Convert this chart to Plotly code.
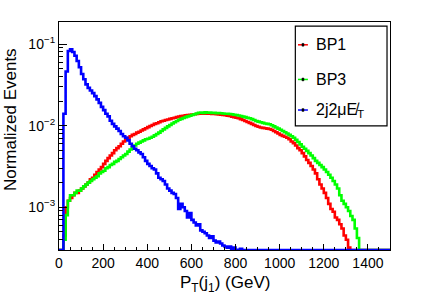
import plotly.graph_objects as go

bin_width = 10
edges = list(range(0, 1510, bin_width))

bp1 = [
    0, 0, 0.00045, 0.0010, 0.0012, 0.0013, 0.0014, 0.0015, 0.0015, 0.0016,
    0.0017, 0.0018, 0.0019, 0.0020, 0.0022, 0.0023, 0.0025, 0.0027, 0.0029, 0.0031,
    0.0034, 0.0037, 0.0040, 0.0043, 0.0046, 0.0050, 0.0053, 0.0056, 0.0060, 0.0064,
    0.0068, 0.0071, 0.0074, 0.0077, 0.0079, 0.0082, 0.0084, 0.0087, 0.0090, 0.0093,
    0.0096, 0.0099, 0.0102, 0.0105, 0.0107, 0.0110, 0.0113, 0.0115, 0.0117, 0.0119,
    0.0121, 0.0123, 0.0125, 0.0127, 0.0129, 0.0131, 0.0132, 0.0134, 0.0135, 0.0136,
    0.0137, 0.0138, 0.0139, 0.0140, 0.0141, 0.0140, 0.0141, 0.0140, 0.0140, 0.0139,
    0.0139, 0.0138, 0.0137, 0.0136, 0.0135, 0.0134, 0.0132, 0.0131, 0.0129, 0.0127,
    0.0125, 0.0123, 0.0120, 0.0117, 0.0114, 0.0111, 0.0108, 0.0105, 0.0102, 0.0099,
    0.0097, 0.0095, 0.0094, 0.0093, 0.0092, 0.0091, 0.0089, 0.0086, 0.0083, 0.0080,
    0.0077, 0.0075, 0.0073, 0.0071, 0.0068, 0.0064, 0.0061, 0.0057, 0.0053, 0.0050,
    0.0046, 0.0042, 0.0038, 0.0035, 0.0032, 0.0029, 0.0026, 0.0022, 0.0019, 0.0017,
    0.0015, 0.0013, 0.0011, 0.00095, 0.00088, 0.00075, 0.00070, 0.00062, 0.00055, 0.00045,
    0.00040, 0.00032, 0, 0, 0, 0, 0, 0, 0, 0,
    0, 0, 0, 0, 0, 0, 0, 0, 0, 0,
]

bp3 = [
    0, 0, 0.00040, 0.0008, 0.0012, 0.0014, 0.0014, 0.0015, 0.0016, 0.0016,
    0.0017, 0.0018, 0.0019, 0.0020, 0.0021, 0.0022, 0.0023, 0.0024, 0.0026, 0.0027,
    0.0028, 0.0030, 0.0031, 0.0033, 0.0034, 0.0036, 0.0037, 0.0039, 0.0041, 0.0043,
    0.0045, 0.0048, 0.0051, 0.0054, 0.0057, 0.0060, 0.0062, 0.0064, 0.0066, 0.0068,
    0.0069, 0.0071, 0.0073, 0.0076, 0.0079, 0.0082, 0.0086, 0.0090, 0.0094, 0.0098,
    0.0102, 0.0106, 0.0110, 0.0114, 0.0118, 0.0121, 0.0124, 0.0127, 0.0130, 0.0132,
    0.0135, 0.0138, 0.0141, 0.0144, 0.0145, 0.0143, 0.0146, 0.0144, 0.0145, 0.0143,
    0.0144, 0.0142, 0.0143, 0.0142, 0.0141, 0.0140, 0.0140, 0.0139, 0.0138, 0.0136,
    0.0135, 0.0133, 0.0131, 0.0129, 0.0127, 0.0125, 0.0123, 0.0120, 0.0117, 0.0114,
    0.0112, 0.0110, 0.0108, 0.0106, 0.0105, 0.0104, 0.0101, 0.0098, 0.0095, 0.0092,
    0.0089, 0.0086, 0.0083, 0.0080, 0.0077, 0.0074, 0.0071, 0.0067, 0.0063, 0.0059,
    0.0055, 0.0052, 0.0049, 0.0046, 0.0043, 0.0040, 0.0037, 0.0035, 0.0033, 0.0031,
    0.0029, 0.0027, 0.0025, 0.0023, 0.0021, 0.0019, 0.0017, 0.0014, 0.0012, 0.0011,
    0.0010, 0.0009, 0.00078, 0.00070, 0.00055, 0.00042, 0, 0, 0, 0,
    0, 0, 0, 0, 0, 0, 0, 0, 0, 0,
]

bkg = [
    0, 0, 0.014, 0.046, 0.082, 0.086, 0.080, 0.072, 0.062, 0.052,
    0.043, 0.037, 0.032, 0.029, 0.027, 0.025, 0.023, 0.021, 0.019, 0.017,
    0.0155, 0.014, 0.013, 0.0115, 0.0105, 0.0098, 0.0092, 0.0086, 0.0079, 0.0074,
    0.0071, 0.0066, 0.0060, 0.0056, 0.0052, 0.0050, 0.0047, 0.0045, 0.0041, 0.0037,
    0.0034, 0.0032, 0.0030, 0.0029, 0.0026, 0.0023, 0.0022, 0.0021, 0.0019, 0.0017,
    0.0016, 0.0015, 0.00145, 0.0013, 0.00095, 0.0011, 0.0010, 0.0009, 0.00075, 0.00085,
    0.00070, 0.00065, 0.00060, 0.00062, 0.00052, 0.00050, 0.00048, 0.00045, 0.00042, 0.00044,
    0.00039, 0.00037, 0.00038, 0.00036, 0.00034, 0.00033, 0.00032, 0.00033, 0.00031, 0.00032,
    0.00030, 0, 0.00031, 0, 0, 0, 0, 0, 0, 0,
    0, 0, 0, 0, 0, 0, 0, 0, 0, 0,
    0, 0, 0, 0, 0, 0, 0, 0, 0, 0,
    0, 0, 0, 0, 0, 0, 0, 0, 0, 0,
    0, 0, 0, 0, 0, 0, 0, 0, 0, 0,
    0, 0, 0, 0, 0, 0, 0, 0, 0, 0,
    0, 0, 0, 0, 0, 0, 0, 0, 0, 0,
]

names = ["BP1", "BP3", "2j2μE̸<sub>T</sub>"]
colors = ["#ff0000", "#00ff00", "#0000ff"]
series = [bp1, bp3, bkg]

y_major = [1e-3, 1e-2, 1e-1]
y_major_text = ["10<sup>−3</sup>", "10<sup>−2</sup>", "10<sup>−1</sup>"]
y_minor = [m * 10.0 ** e for e in (-4, -3, -2, -1) for m in range(2, 10)]

y_log_min, y_log_max = -3.524, -0.73
floor = 10 ** y_log_min

fig = go.Figure()
for vals, col in zip(series, colors):
    y = [v if v > 0 else floor for v in vals]
    y = y + [y[-1]]
    fig.add_trace(go.Scatter(x=edges, y=y, mode="lines", line=dict(color=col, width=2.6, shape="hv"),
                             showlegend=False, hoverinfo="skip"))

axis_font = dict(family="Liberation Sans, Arial, sans-serif", size=14, color="black")

fig.update_layout(
    width=436, height=300,
    margin=dict(l=59, r=46, t=22, b=50),
    paper_bgcolor="white", plot_bgcolor="white",
    font=dict(family="Liberation Sans, Arial, sans-serif", color="black"),
    showlegend=False,
    xaxis=dict(range=[0, 1500], automargin=False, showline=True, linecolor="black", linewidth=1.2, mirror=True,
               ticks="inside", ticklen=6, tickcolor="black", dtick=200, tick0=0,
               minor=dict(ticks="inside", ticklen=3, dtick=50, tickcolor="black"),
               showgrid=False, zeroline=False, tickfont=axis_font),
    yaxis=dict(type="log", range=[y_log_min, y_log_max], automargin=False, showline=True, linecolor="black",
               linewidth=1.2, mirror=True, ticks="inside", ticklen=8, tickcolor="black",
               tickvals=y_major, ticktext=y_major_text,
               minor=dict(ticks="inside", ticklen=4, tickcolor="black", tickvals=y_minor),
               showgrid=False, zeroline=False, tickfont=axis_font),
)

# axis titles
fig.add_annotation(xref="paper", yref="paper", x=-0.148, y=0.57, text="Normalized Events", textangle=-90,
                   showarrow=False, xanchor="center", yanchor="middle", font=dict(size=17, color="black"))
fig.add_annotation(xref="paper", yref="paper", x=0.5, y=-0.092, text="P<sub>T</sub>(j<sub>1</sub>) (GeV)",
                   showarrow=False, xanchor="center", yanchor="top", font=dict(size=17, color="black"))

# legend box (manual, ROOT style)
lx0, lx1, ly0, ly1 = 0.714, 0.991, 0.982, 0.544
fig.add_shape(type="rect", xref="paper", yref="paper", x0=lx0, x1=lx1, y0=ly1, y1=ly0,
              line=dict(color="black", width=1.2), fillcolor="white", layer="above")
entry_y = [0.900, 0.748, 0.614]
for name, col, ey in zip(names, colors, entry_y):
    fig.add_shape(type="line", xref="paper", yref="paper", x0=0.722, x1=0.752, y0=ey, y1=ey,
                  line=dict(color=col, width=1.5), layer="above")
    fig.add_shape(type="rect", xref="paper", yref="paper", x0=0.734, x1=0.740, y0=ey - 0.006, y1=ey + 0.006,
                  line=dict(color="black", width=0.5), fillcolor="black", layer="above")
    fig.add_annotation(xref="paper", yref="paper", x=0.77, y=ey, text=name, showarrow=False,
                       xanchor="left", yanchor="middle", font=dict(size=16, color="black"))

fig.write_html("out.html", config={"displayModeBar": False},
               post_script="document.body.style.margin='0';document.body.style.overflow='hidden';")
